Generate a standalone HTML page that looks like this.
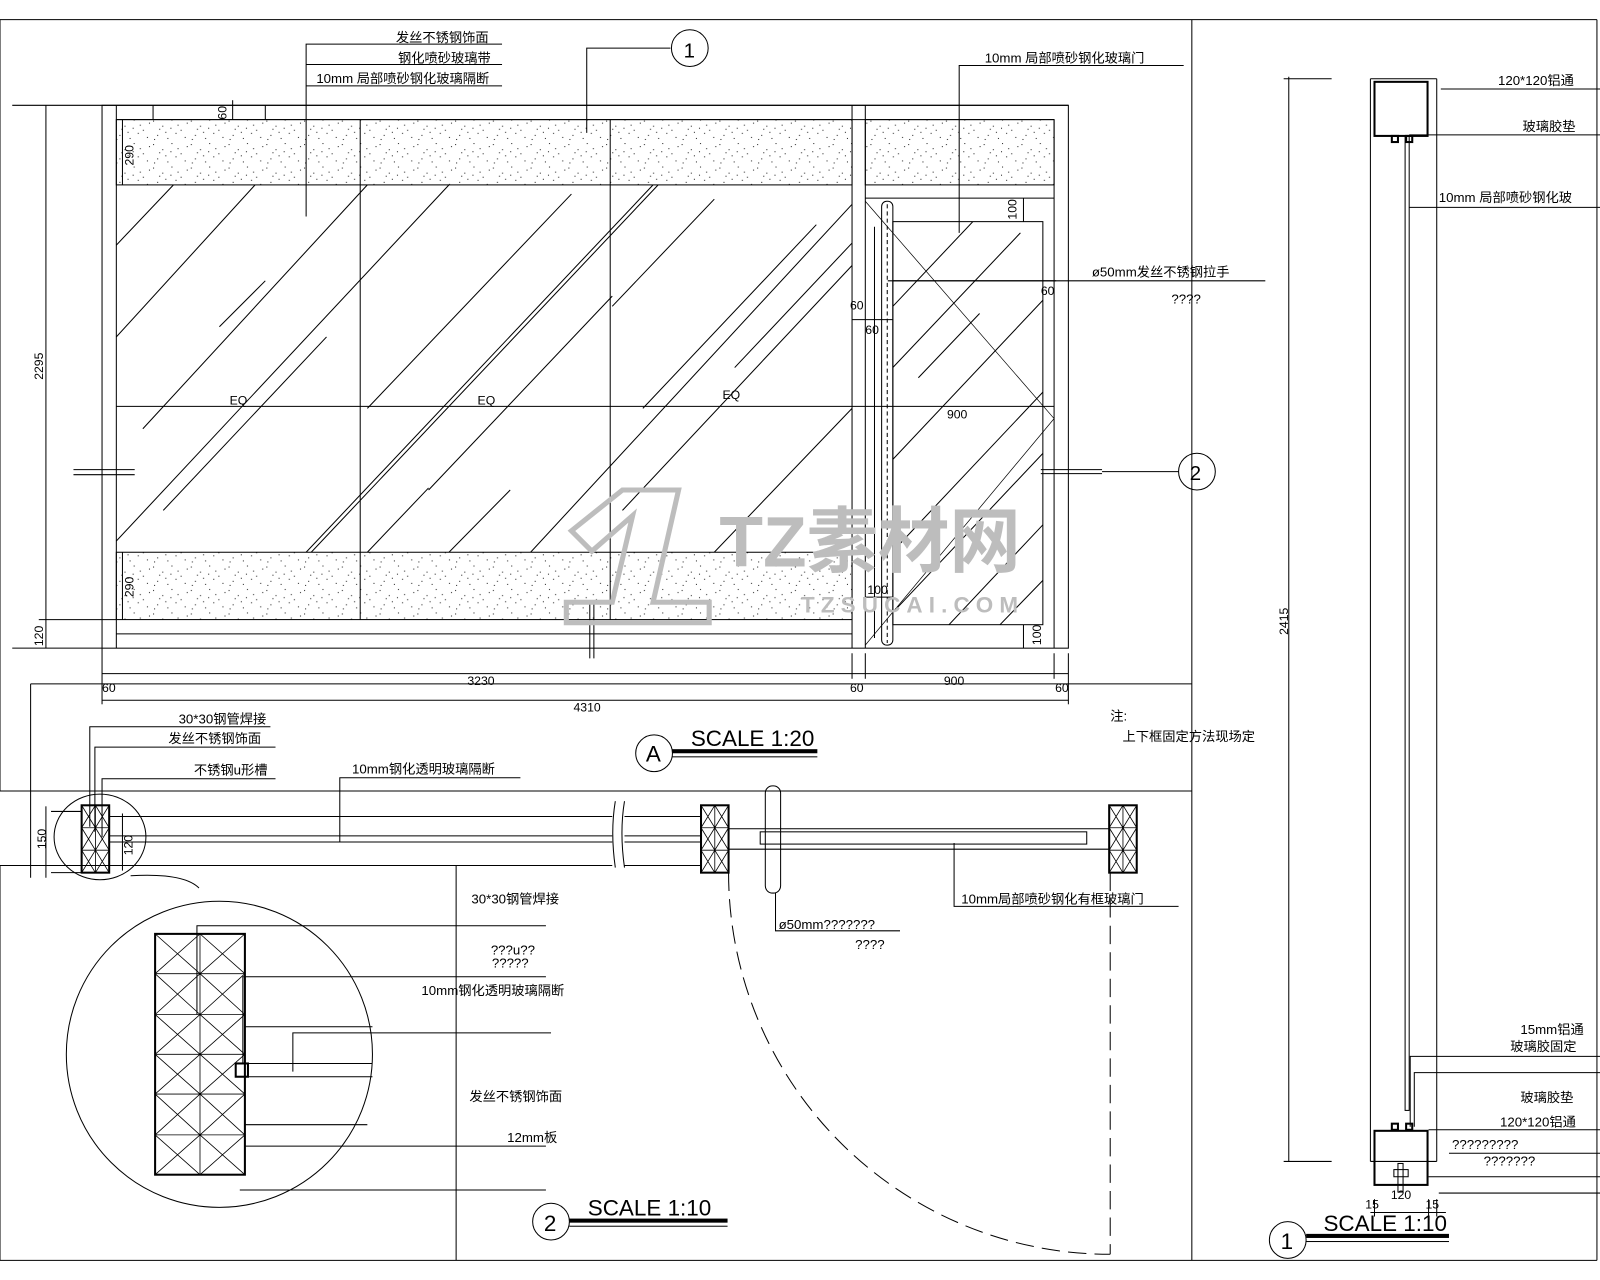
<!DOCTYPE html>
<html><head><meta charset="utf-8"><style>
html,body{margin:0;padding:0;background:#fff}
svg{display:block}
text{font-family:"Liberation Sans","Noto Sans CJK SC",sans-serif;fill:#000}
</style></head><body>
<svg width="1600" height="1280" viewBox="0 0 1568 1254" xmlns="http://www.w3.org/2000/svg">
<defs>
<pattern id="sp" width="37" height="23" patternUnits="userSpaceOnUse">
<g fill="#222">
<rect x="2" y="3" width="1" height="1"/><rect x="11" y="8" width="1" height="1"/><rect x="20" y="2" width="1" height="1"/><rect x="29" y="12" width="1" height="1"/><rect x="6" y="17" width="1" height="1"/><rect x="16" y="20" width="1" height="1"/><rect x="33" y="19" width="1" height="1"/><rect x="24" y="15" width="1" height="1"/><rect x="8" y="11" width="1" height="1"/><rect x="35" y="5" width="1" height="1"/><rect x="14" y="14" width="1" height="1"/><rect x="26" y="7" width="1" height="1"/><rect x="3" y="21" width="1" height="1"/><rect x="19" y="10" width="1" height="1"/>
</g></pattern>
<clipPath id="g1"><rect x="114" y="181" width="721" height="360"/></clipPath>
<clipPath id="g2"><rect x="875" y="217" width="147" height="395"/></clipPath>
</defs>
<g fill="none" stroke="#000" stroke-width="1">
<line x1="0" y1="19" x2="1565" y2="19"/>
<line x1="0" y1="19" x2="0" y2="775"/>
<line x1="0" y1="775" x2="1168" y2="775"/>
<line x1="1168" y1="19" x2="1168" y2="1235"/>
<line x1="1565" y1="19" x2="1565" y2="1235"/>
<line x1="0" y1="1235" x2="1565" y2="1235"/>
<line x1="30" y1="670" x2="1168" y2="670"/>
<line x1="30" y1="670" x2="30" y2="860"/>
<line x1="0" y1="848" x2="447" y2="848"/>
<line x1="0" y1="848" x2="0" y2="1235"/>
<line x1="447" y1="848" x2="447" y2="1235"/>

<line x1="12" y1="103" x2="1047" y2="103"/>
<rect x="100" y="103" width="947" height="532"/>
<line x1="114" y1="103" x2="114" y2="635"/>
<line x1="114" y1="117" x2="1033" y2="117"/>
<rect x="114" y="117" width="721" height="64" fill="url(#sp)"/>
<rect x="848" y="117" width="185" height="64" fill="url(#sp)"/>
<rect x="114" y="541" width="721" height="66" fill="url(#sp)"/>
<line x1="114" y1="621" x2="835" y2="621"/>
<line x1="353" y1="117" x2="353" y2="607"/>
<line x1="598" y1="117" x2="598" y2="607"/>
<line x1="835" y1="103" x2="835" y2="635"/>
<line x1="848" y1="103" x2="848" y2="635"/>
<line x1="1033" y1="117" x2="1033" y2="635"/>
<line x1="848" y1="194" x2="1033" y2="194"/>
<line x1="150" y1="103" x2="150" y2="117"/><line x1="260" y1="103" x2="260" y2="117"/>
<line x1="228" y1="98" x2="228" y2="117"/>
<g clip-path="url(#g1)">
<line x1="114" y1="240" x2="170" y2="181"/><line x1="114" y1="330" x2="250" y2="181"/><line x1="140" y1="420" x2="360" y2="181"/>
<line x1="114" y1="530" x2="440" y2="181"/><line x1="215" y1="320" x2="260" y2="275"/><line x1="160" y1="500" x2="320" y2="330"/>
<line x1="300" y1="541" x2="640" y2="181"/><line x1="305" y1="541" x2="645" y2="181"/><line x1="360" y1="400" x2="560" y2="190"/>
<line x1="420" y1="480" x2="600" y2="290"/><line x1="520" y1="541" x2="835" y2="200"/><line x1="600" y1="300" x2="700" y2="195"/>
<line x1="610" y1="500" x2="835" y2="260"/><line x1="700" y1="541" x2="835" y2="400"/><line x1="630" y1="400" x2="800" y2="220"/>
<line x1="440" y1="541" x2="500" y2="480"/><line x1="360" y1="541" x2="420" y2="478"/><line x1="720" y1="360" x2="835" y2="238"/>
</g>
<rect x="875" y="217" width="147" height="395"/>
<g clip-path="url(#g2)">
<line x1="875" y1="300" x2="960" y2="210"/><line x1="875" y1="360" x2="1000" y2="228"/><line x1="900" y1="370" x2="960" y2="307"/>
<line x1="875" y1="450" x2="1040" y2="275"/><line x1="875" y1="540" x2="1040" y2="365"/><line x1="875" y1="600" x2="1040" y2="425"/>
<line x1="930" y1="612" x2="1040" y2="495"/><line x1="980" y1="612" x2="1040" y2="550"/>
</g>
<polyline points="848,197 1033,410 848,632" stroke-width="0.7"/>
<rect x="864" y="197" width="11" height="435" rx="5"/>
<line x1="869.5" y1="200" x2="869.5" y2="630" stroke-dasharray="4,3"/>
<line x1="857" y1="222" x2="857" y2="625"/>
<line x1="45" y1="103" x2="45" y2="635"/><line x1="12" y1="635" x2="100" y2="635"/>
<line x1="38" y1="607" x2="114" y2="607"/>
<line x1="120" y1="117" x2="120" y2="181"/><line x1="120" y1="541" x2="120" y2="607"/>
<line x1="100" y1="660" x2="1047" y2="660"/><line x1="100" y1="686" x2="1047" y2="686"/>
<line x1="100" y1="635" x2="100" y2="690"/><line x1="835" y1="640" x2="835" y2="665"/><line x1="848" y1="640" x2="848" y2="665"/><line x1="1033" y1="640" x2="1033" y2="665"/><line x1="1047" y1="640" x2="1047" y2="690"/>
<line x1="114" y1="398" x2="1033" y2="398"/>
<line x1="875" y1="275" x2="1035" y2="275"/><line x1="875" y1="313" x2="835" y2="313"/>
<line x1="1003" y1="194" x2="1003" y2="217"/><line x1="1003" y1="612" x2="1003" y2="635"/>
<line x1="848" y1="585" x2="875" y2="585"/>
<line x1="72" y1="460" x2="132" y2="460"/><line x1="72" y1="465" x2="132" y2="465"/>
<line x1="1020" y1="460" x2="1080" y2="460"/><line x1="1020" y1="464" x2="1080" y2="464"/>
<line x1="1080" y1="462" x2="1155" y2="462"/>
<line x1="578" y1="590" x2="578" y2="645"/><line x1="582" y1="590" x2="582" y2="645"/>
<polyline points="300,212 300,43 492,43"/><line x1="300" y1="63" x2="492" y2="63"/><line x1="300" y1="84" x2="492" y2="84"/>
<polyline points="575,130 575,47 657,47"/>
<circle cx="676" cy="47" r="18"/>
<polyline points="940,228 940,64 1160,64"/>
<circle cx="1173" cy="462" r="18"/>
<line x1="870" y1="275" x2="1240" y2="275"/>

<!-- plan section -->
<line x1="50" y1="795" x2="80" y2="795"/><line x1="50" y1="855" x2="80" y2="855"/>
<line x1="45" y1="790" x2="45" y2="860"/><line x1="120" y1="797" x2="120" y2="853"/>
<g id="blk">
<rect x="80" y="789" width="27" height="66" stroke-width="2"/>
<path stroke-width="0.8" d="M93.5,789V855M80,811H107M80,833H107 M80,789L93.5,811M93.5,789L80,811 M93.5,789L107,811M107,789L93.5,811 M80,811L93.5,833M93.5,811L80,833 M93.5,811L107,833M107,811L93.5,833 M80,833L93.5,855M93.5,833L80,855 M93.5,833L107,855M107,833L93.5,855"/>
</g>
<use href="#blk" transform="translate(607,0)"/>
<use href="#blk" transform="translate(1007,0)"/>
<line x1="107" y1="800" x2="600" y2="800"/><line x1="612" y1="800" x2="687" y2="800"/>
<line x1="107" y1="848" x2="600" y2="848"/><line x1="612" y1="848" x2="687" y2="848"/>
<line x1="107" y1="819" x2="600" y2="819"/><line x1="612" y1="819" x2="687" y2="819"/>
<line x1="107" y1="825" x2="600" y2="825"/><line x1="612" y1="825" x2="687" y2="825"/>
<path d="M603,785 Q598,815 603,850"/><path d="M612,785 Q607,815 612,850"/>
<line x1="714" y1="812" x2="1087" y2="812"/><line x1="714" y1="832" x2="1087" y2="832"/>
<rect x="745" y="815" width="320" height="12"/>
<rect x="750" y="770" width="15" height="105" rx="7"/>
<path d="M714,855 A374,374 0 0 0 1088,1229" stroke-dasharray="18,8"/>
<line x1="1088" y1="855" x2="1088" y2="1229" stroke-dasharray="18,8"/>
<ellipse cx="98" cy="820" rx="45" ry="42"/>
<polyline points="88,810 88,712 265,712"/><polyline points="93,815 93,732 270,732"/><polyline points="100,820 100,763 270,763"/>
<polyline points="333,825 333,762 510,762"/>
<polyline points="935,826 935,888 1155,888"/>
<polyline points="760,875 760,912 882,912"/>
<path d="M128,858 Q180,855 195,870"/>
<!-- detail circle -->
<circle cx="215" cy="1033" r="150"/>
<rect x="152" y="915" width="88" height="236" stroke-width="2"/>
<path stroke-width="0.8" d="M196,915V1151 M152,954H240M152,994H240M152,1033H240M152,1072H240M152,1112H240
M152,915L196,954M196,915L152,954M196,915L240,954M240,915L196,954
M152,954L196,994M196,954L152,994M196,954L240,994M240,954L196,994
M152,994L196,1033M196,994L152,1033M196,994L240,1033M240,994L196,1033
M152,1033L196,1072M196,1033L152,1072M196,1033L240,1072M240,1033L196,1072
M152,1072L196,1112M196,1072L152,1112M196,1072L240,1112M240,1072L196,1112
M152,1112L196,1151M196,1112L152,1151M196,1112L240,1151M240,1112L196,1151"/>
<rect x="231" y="1042" width="12" height="13" stroke-width="2"/>
<line x1="243" y1="1042" x2="365" y2="1042"/><line x1="243" y1="1055" x2="365" y2="1055"/>
<polyline points="193,994 193,907 535,907"/>
<polyline points="238,1042 238,957 535,957"/>
<line x1="240" y1="1006" x2="365" y2="1006"/>
<polyline points="287,1050 287,1012 540,1012"/>
<line x1="240" y1="1102" x2="360" y2="1102"/>
<line x1="240" y1="1123" x2="535" y2="1123"/>
<line x1="235" y1="1166" x2="535" y2="1166"/>
<!-- right section -->
<line x1="1263" y1="75" x2="1263" y2="1138"/>
<line x1="1258" y1="77" x2="1305" y2="77"/><line x1="1258" y1="1138" x2="1305" y2="1138"/>
<line x1="1343" y1="77" x2="1343" y2="1138"/><line x1="1408" y1="77" x2="1408" y2="1138"/>
<line x1="1343" y1="77" x2="1408" y2="77"/><line x1="1343" y1="1138" x2="1408" y2="1138"/>
<rect x="1377" y="133" width="4" height="955"/>
<rect x="1347" y="80" width="52" height="53" stroke-width="2"/>
<rect x="1347" y="1108" width="52" height="53" stroke-width="2"/>
<rect x="1364" y="133" width="6" height="6" stroke-width="2"/><rect x="1378" y="133" width="6" height="6" stroke-width="2"/>
<rect x="1364" y="1101" width="6" height="6" stroke-width="2"/><rect x="1378" y="1101" width="6" height="6" stroke-width="2"/>
<line x1="1412" y1="87" x2="1568" y2="87"/><line x1="1381" y1="132" x2="1568" y2="132"/><line x1="1381" y1="203" x2="1568" y2="203"/>
<polyline points="1382,1104 1382,1035 1568,1035"/><polyline points="1386,1104 1386,1051 1568,1051"/>
<line x1="1400" y1="1107" x2="1568" y2="1107"/><line x1="1420" y1="1130" x2="1568" y2="1130"/>
<line x1="1400" y1="1153" x2="1568" y2="1153"/><line x1="1410" y1="1169" x2="1568" y2="1169"/>
<rect x="1366" y="1146" width="14" height="7"/><rect x="1370" y="1140" width="5" height="28"/>
<line x1="1343" y1="1188" x2="1417" y2="1188"/><line x1="1347" y1="1175" x2="1347" y2="1192"/><line x1="1400" y1="1175" x2="1400" y2="1192"/><line x1="1408" y1="1175" x2="1408" y2="1192"/>
<circle cx="641" cy="738" r="18"/><circle cx="540" cy="1197" r="18"/><circle cx="1262" cy="1215" r="18"/>
</g>
<g fill="#000">
<rect x="659" y="734" width="142" height="4"/><rect x="659" y="741" width="142" height="1"/>
<rect x="558" y="1194" width="155" height="4"/><rect x="558" y="1201" width="155" height="1"/>
<rect x="1280" y="1209" width="140" height="4"/><rect x="1280" y="1216" width="140" height="1"/>
</g>
<g>
<text x="705" y="555" font-size="70" font-weight="bold" style="fill:#bdbdbd">TZ素材网</text>
<text x="785" y="600" font-size="22" font-weight="bold" letter-spacing="6" style="fill:#bdbdbd">TZSUCAI.COM</text>
<path d="M560,520 L610,480 L665,480 L640,590 L695,590 L695,610 L555,610 L555,590 L600,590 L620,505 L580,540 Z" fill="none" stroke="#bdbdbd" stroke-width="5"/>
</g>
<g font-size="13">
<text x="388" y="41">发丝不锈钢饰面</text>
<text x="390" y="61">钢化喷砂玻璃带</text>
<text x="310" y="81">10mm  局部喷砂钢化玻璃隔断</text>
<text x="965" y="61">10mm  局部喷砂钢化玻璃门</text>
<text x="1070" y="271">ø50mm发丝不锈钢拉手</text>
<text x="1148" y="297">????</text>
<text x="1088" y="706">注:</text>
<text x="1100" y="726">上下框固定方法现场定</text>
<text x="175" y="709">30*30钢管焊接</text>
<text x="165" y="728">发丝不锈钢饰面</text>
<text x="190" y="759">不锈钢u形槽</text>
<text x="345" y="758">10mm钢化透明玻璃隔断</text>
<text x="942" y="885">10mm局部喷砂钢化有框玻璃门</text>
<text x="763" y="910">ø50mm???????</text>
<text x="838" y="930">????</text>
<text x="462" y="885">30*30钢管焊接</text>
<text x="481" y="935">???u??</text>
<text x="482" y="948">?????</text>
<text x="413" y="975">10mm钢化透明玻璃隔断</text>
<text x="460" y="1079">发丝不锈钢饰面</text>
<text x="497" y="1119">12mm板</text>
<text x="1468" y="83">120*120铝通</text>
<text x="1492" y="128">玻璃胶垫</text>
<text x="1410" y="198">10mm  局部喷砂钢化玻</text>
<text x="1490" y="1013">15mm铝通</text>
<text x="1480" y="1030">玻璃胶固定</text>
<text x="1490" y="1080">玻璃胶垫</text>
<text x="1470" y="1104">120*120铝通</text>
<text x="1423" y="1126">?????????</text>
<text x="1454" y="1142">???????</text>
<text x="1338" y="1184" font-size="12">15</text><text x="1363" y="1175" font-size="12">120</text><text x="1397" y="1184" font-size="12">15</text>
</g>
<g font-size="12">
<text x="225" y="396">EQ</text><text x="468" y="396">EQ</text><text x="708" y="391">EQ</text>
<text x="928" y="410">900</text>
<text x="458" y="671">3230</text><text x="925" y="671">900</text>
<text x="562" y="697">4310</text>
<text x="100" y="678">60</text><text x="833" y="678">60</text><text x="1034" y="678">60</text>
<text x="833" y="303">60</text><text x="848" y="327">60</text><text x="1020" y="289">60</text>
<text x="850" y="582">100</text>
<text transform="translate(42,372) rotate(-90)">2295</text>
<text transform="translate(131,162) rotate(-90)">290</text>
<text transform="translate(131,585) rotate(-90)">290</text>
<text transform="translate(42,633) rotate(-90)">120</text>
<text transform="translate(222,117) rotate(-90)">60</text>
<text transform="translate(996,215) rotate(-90)">100</text>
<text transform="translate(1020,632) rotate(-90)">100</text>
<text transform="translate(45,832) rotate(-90)">150</text>
<text transform="translate(130,838) rotate(-90)">120</text>
<text transform="translate(1262,622) rotate(-90)">2415</text>
</g>
<g font-size="22">
<text x="677" y="731">SCALE  1:20</text>
<text x="576" y="1191">SCALE  1:10</text>
<text x="1297" y="1206">SCALE  1:10</text>
<text x="633" y="746">A</text>
<text x="533" y="1206">2</text><text x="1255" y="1224">1</text>
<text x="670" y="56" font-size="20">1</text><text x="1166" y="470" font-size="20">2</text>
</g>
</svg>
</body></html>
